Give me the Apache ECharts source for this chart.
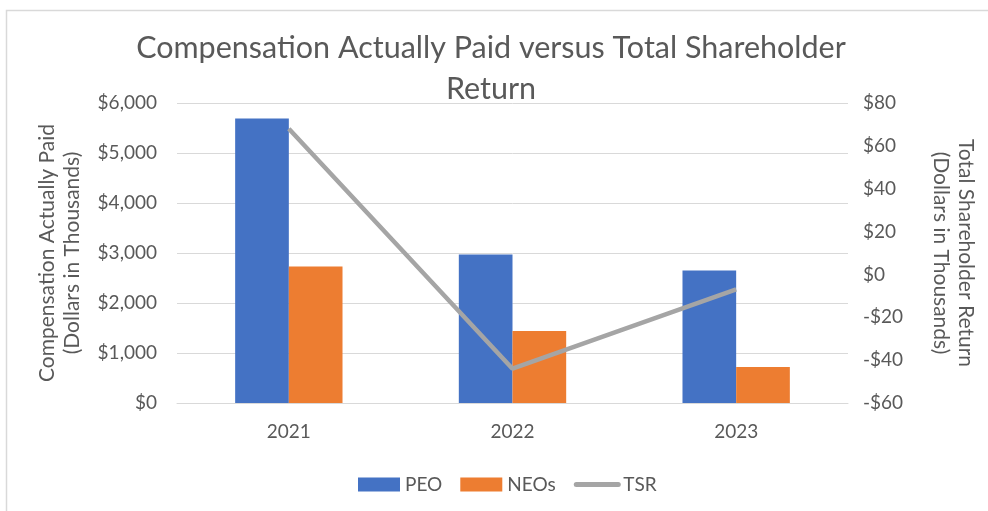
<!DOCTYPE html>
<html>
<head>
<meta charset="utf-8">
<script src="https://cdn.jsdelivr.net/npm/echarts@6/dist/echarts.min.js"></script>
<style>
  html, body { margin: 0; padding: 0; background: #fff; }
  #chart { width: 988px; height: 511px; }
</style>
</head>
<body>
<div id="chart"></div>
<script>
const years = ["2021", "2022", "2023"];
const peoValues = [5690, 2970, 2650];
const neoValues = [2730, 1440, 720];
const tsrValues = [68, -44, -7];

const font = "Lato";
const grey = "#595959";

function money(v) {
  const s = "$" + Math.abs(v).toLocaleString("en-US");
  return v < 0 ? "-" + s : s;
}

const chart = echarts.init(document.getElementById("chart"));
chart.setOption({
  animation: false,
  textStyle: { fontFamily: font, color: grey },
  title: {
    text: "Compensation Actually Paid versus Total Shareholder\nReturn",
    left: 486,
    textAlign: "center",
    top: 23,
    textStyle: { fontFamily: font, fontSize: 30.5, fontWeight: "normal", color: grey, lineHeight: 41 }
  },
  graphic: [{
    type: "rect",
    shape: { x: 6.5, y: 10.5, width: 1000, height: 520 },
    style: { fill: "none", stroke: "#d9d9d9", lineWidth: 1.5 },
    silent: true
  }],
  legend: {
    bottom: 12,
    left: 353,
    itemWidth: 42,
    itemHeight: 14,
    itemGap: 18,
    textStyle: { fontFamily: font, fontSize: 19, color: grey },
    data: [
      { name: "PEO", icon: "rect" },
      { name: "NEOs", icon: "rect" },
      { name: "TSR", itemStyle: { opacity: 0 }, lineStyle: { width: 5, cap: "round", color: "#a5a5a5" } }
    ]
  },
  grid: { left: 177, right: 140, top: 103, bottom: 108 },
  xAxis: {
    type: "category",
    data: years,
    axisLine: { lineStyle: { color: "#d9d9d9" } },
    axisTick: { show: false },
    axisLabel: { fontSize: 19, color: grey, margin: 19, fontFamily: font }
  },
  yAxis: [
    {
      type: "value",
      min: 0,
      max: 6000,
      interval: 1000,
      name: "Compensation Actually Paid\n(Dollars in Thousands)",
      nameLocation: "middle",
      nameGap: 92,
      nameRotate: 90,
      nameTextStyle: { fontSize: 21, color: grey, fontFamily: font, lineHeight: 25 },
      axisLine: { show: false },
      axisTick: { show: false },
      axisLabel: { fontSize: 19, color: grey, margin: 20, fontFamily: font, formatter: money },
      splitLine: { lineStyle: { color: "#d9d9d9", width: 1 } }
    },
    {
      type: "value",
      min: -60,
      max: 80,
      interval: 20,
      name: "Total Shareholder Return\n(Dollars in Thousands)",
      nameLocation: "middle",
      nameGap: 80,
      nameRotate: -90,
      nameTextStyle: { fontSize: 21, color: grey, fontFamily: font, lineHeight: 25 },
      axisLine: { show: false },
      axisTick: { show: false },
      axisLabel: { fontSize: 19, color: grey, margin: 15, fontFamily: font, formatter: money },
      splitLine: { show: false }
    }
  ],
  series: [
    {
      name: "PEO",
      type: "bar",
      data: peoValues,
      barGap: "0%",
      barCategoryGap: "52%",
      itemStyle: { color: "#4472c4" }
    },
    {
      name: "NEOs",
      type: "bar",
      data: neoValues,
      itemStyle: { color: "#ed7d31" }
    },
    {
      name: "TSR",
      type: "line",
      yAxisIndex: 1,
      data: tsrValues,
      symbol: "none",
      lineStyle: { color: "#a5a5a5", width: 4.5 },
      itemStyle: { color: "#a5a5a5" }
    }
  ]
});
</script>
</body>
</html>
